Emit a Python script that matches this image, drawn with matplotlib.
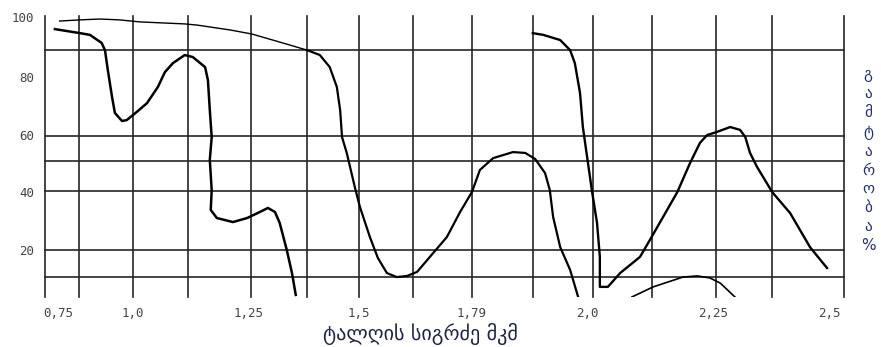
import matplotlib
matplotlib.use("Agg")
import matplotlib.pyplot as plt

# wavelength axis (drawn in the chart's own nominal units) and transmittance %
upper_x = [0.845, 0.888, 0.930, 0.972, 1.015, 1.110, 1.136, 1.206, 1.252, 1.311, 1.369,
           1.396, 1.417, 1.432, 1.439, 1.443, 1.453, 1.470, 1.481, 1.502, 1.519, 1.538,
           1.559, 1.581, 1.602, 1.629, 1.665, 1.693, 1.718, 1.735, 1.763, 1.805, 1.831,
           1.852, 1.873, 1.883, 1.890, 1.905, 1.926, 1.943]
upper_y = [99.5, 99.9, 100.2, 99.9, 99.2, 98.5, 98.1, 96.4, 95.0, 92.2, 89.4,
           87.7, 83.5, 76.6, 68.6, 59.2, 53.7, 41.9, 34.9, 24.5, 17.2, 12.0,
           10.6, 11.0, 12.4, 17.6, 24.5, 33.2, 40.1, 47.8, 51.9, 54.0, 53.7,
           51.6, 46.7, 40.8, 31.5, 21.0, 13.1, 3.7]

left_x = [0.835, 0.888, 0.909, 0.934, 0.941, 0.947, 0.956, 0.962, 0.977, 0.987, 1.008,
          1.030, 1.053, 1.068, 1.085, 1.110, 1.127, 1.153, 1.159, 1.163, 1.167, 1.163,
          1.167, 1.165, 1.178, 1.212, 1.242, 1.269, 1.286, 1.301, 1.311, 1.326, 1.337, 1.345]
left_y = [96.7, 95.3, 94.7, 91.9, 89.4, 82.5, 73.1, 67.6, 64.8, 65.1, 67.9,
          71.0, 76.6, 81.8, 84.9, 87.7, 87.0, 83.5, 79.0, 68.6, 59.2, 51.3,
          40.8, 33.9, 31.1, 29.7, 31.1, 33.2, 34.6, 33.2, 29.4, 20.0, 12.0, 4.4]

right_x = [1.847, 1.869, 1.905, 1.926, 1.936, 1.947, 1.953, 1.962, 1.972, 1.983, 1.989,
           1.989, 2.006, 2.032, 2.074, 2.095, 2.123, 2.153, 2.180, 2.201, 2.216, 2.237,
           2.265, 2.286, 2.297, 2.307, 2.322, 2.354, 2.392, 2.434, 2.470]
right_y = [95.3, 94.7, 92.9, 89.4, 84.9, 74.5, 62.7, 52.3, 40.8, 29.4, 17.6,
           7.2, 7.2, 12.0, 17.6, 23.5, 31.5, 40.1, 50.2, 57.2, 59.9, 61.0,
           62.7, 61.7, 59.2, 53.7, 48.8, 40.1, 32.8, 21.0, 13.75]

hump_x = [2.057, 2.102, 2.165, 2.195, 2.222, 2.244, 2.275]
hump_y = [3.7, 7.2, 10.6, 11.0, 10.3, 8.5, 3.7]

x_grid = [0.814, 0.886, 1.0, 1.117, 1.25, 1.369, 1.479, 1.593, 1.718, 1.847,
          1.975, 2.1, 2.235, 2.354, 2.506]
y_grid = [89.4, 59.6, 50.9, 40.5, 20, 10.6]

x_tick_pos = [0.843, 1.0, 1.245, 1.479, 1.718, 1.962, 2.228, 2.475]
x_tick_labels = ["0,75", "1,0", "1,25", "1,5", "1,79", "2,0", "2,25", "2,5"]
y_tick_pos = [101.0, 80, 60, 40, 20]
y_tick_labels = ["100", "80", "60", "40", "20"]

x_title = "ტალღის სიგრძე მკმ"
y_title = "გამტარობა%"

fig = plt.figure(figsize=(8.81, 3.47), dpi=100)
ax = fig.add_axes([45 / 881, 1 - 297 / 347, (844 - 45) / 881, (297 - 16) / 347])
ax.set_xlim(x_grid[0], x_grid[-1])
ax.set_ylim(3.68, 101.25)

grid_kw = dict(color="#262626", lw=1.2, clip_on=False, zorder=1)
for gx in x_grid:
    ax.axvline(gx, **grid_kw)
for gy in y_grid:
    ax.axhline(gy, **grid_kw)

# the flat top part of the long curve is drawn thinner in the original
k = 11
ax.plot(upper_x[:k], upper_y[:k], color="black", lw=1.0, zorder=3)
ax.plot(upper_x[k - 1:], upper_y[k - 1:], color="black", lw=1.6, zorder=3)
ax.plot(left_x, left_y, color="black", lw=1.8, zorder=3)
ax.plot(right_x, right_y, color="black", lw=1.7, zorder=3)
ax.plot(hump_x, hump_y, color="black", lw=1.2, zorder=3)

for s in ax.spines.values():
    s.set_visible(False)

ax.set_xticks(x_tick_pos, x_tick_labels)
ax.set_yticks(y_tick_pos, y_tick_labels)
ax.tick_params(length=0, labelsize=9, labelcolor="#444444")
ax.tick_params(axis="x", pad=7)
ax.tick_params(axis="y", pad=8)
for lab in ax.get_xticklabels() + ax.get_yticklabels():
    lab.set_family("DejaVu Sans Mono")

fig.text(420 / 881, 1 - 334 / 347, x_title, ha="center", va="center",
         fontsize=14.5, color="#1e2440", family="DejaVu Sans")
fig.text(868 / 881, 1 - 160 / 347, "\n".join(y_title), ha="center", va="center",
         fontsize=11, color="#24306a", family="DejaVu Sans", linespacing=1.32)

fig.savefig("out.png", dpi=100)
